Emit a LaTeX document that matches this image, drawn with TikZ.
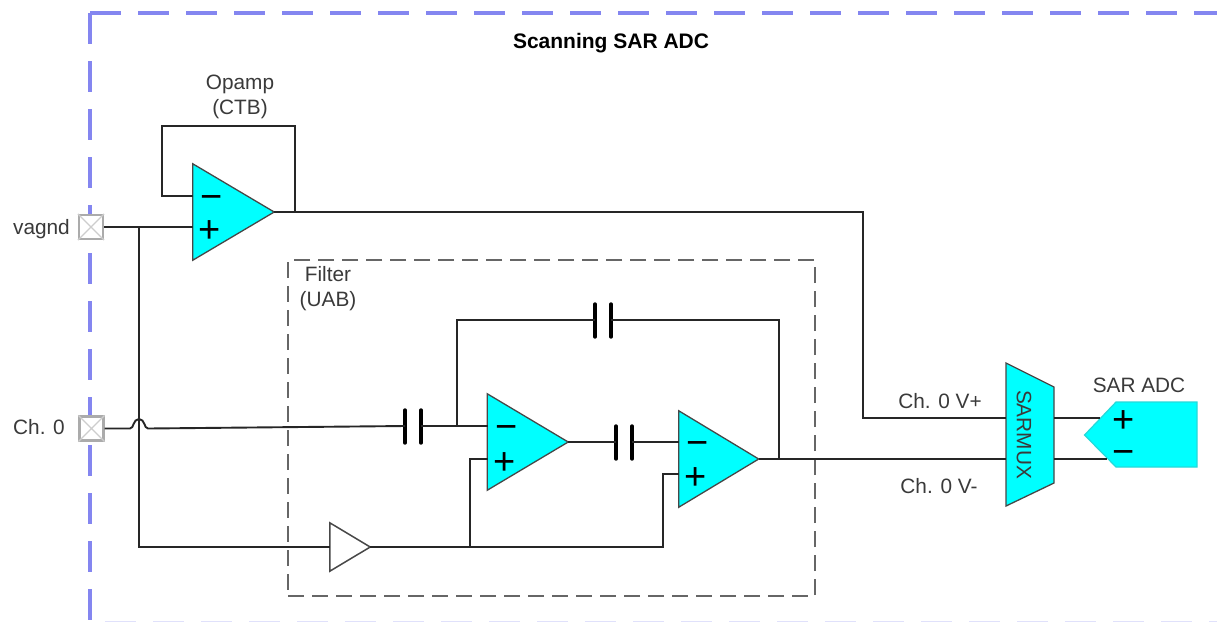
\documentclass[tikz,border=0pt]{standalone}
\usepackage{fontspec}
\setmainfont{Liberation Sans}
\usetikzlibrary{calc}
\definecolor{framecol}{HTML}{8486F0}
\definecolor{filtercol}{HTML}{666666}
\definecolor{wirecol}{HTML}{262626}
\definecolor{ampcol}{HTML}{00FFFF}
\definecolor{labelcol}{HTML}{3A3A3A}
\definecolor{pincol}{HTML}{ABABAB}
\tikzset{
  x=1pt,y=-1pt,
  frameline/.style={draw=framecol,line width=3.1pt,dash pattern=on 31pt off 17pt},
  filterline/.style={draw=filtercol,line width=2.5pt,dash pattern=on 16pt off 8pt},
  wire/.style={draw=wirecol,line width=1.9pt,line join=miter},
  blockedge/.style={draw=wirecol!85!white,fill=ampcol,line width=1.3pt,line join=miter},
  plate/.style={draw=black,line width=3.4pt,line cap=round},
  label/.style={text=labelcol,font=\fontsize{20.8}{24.5}\selectfont,inner sep=0pt,align=center},
  title/.style={text=black,font=\fontsize{21}{24}\selectfont\bfseries,inner sep=0pt},
  pinbox/.style={draw=pincol,fill=white,line width=2.2pt,minimum width=24pt,minimum height=24pt,inner sep=0pt},
  sign/.style={text=black,font=\fontsize{38}{38}\selectfont,inner sep=0pt},
}
% \ampl{name}{left x}{top y}{width}{height}{minus y}{plus y}
\newcommand{\ampl}[7]{%
  \node[inner sep=0pt,minimum width=#4pt,minimum height=#5pt] (#1) at ({#2+#4/2},{#3+#5/2}) {};
  \path[blockedge] (#1.north west) -- (#1.east) -- (#1.south west) -- cycle;
  \coordinate (#1m) at (#2,#6);
  \coordinate (#1p) at (#2,#7);
  \node[sign] (#1ms) at ({#2+19},{#6+6}) {−};
  \node[sign] (#1ps) at ({#2+17},{#7+5}) {+};
}
% \capac{name}{left plate x}{centre y}
\newcommand{\capac}[3]{%
  \coordinate (#1l) at (#2,#3);
  \coordinate (#1r) at ({#2+16},#3);
  \draw[plate] ($(#1l)+(0,-16)$) -- ($(#1l)+(0,17)$);
  \draw[plate] ($(#1r)+(0,-16)$) -- ($(#1r)+(0,17)$);
}
\newcommand{\pin}[3]{%
  \node[pinbox] (#1) at (#2,#3) {};
  \draw[pincol!60!white,line width=1.2pt] (#1.north west) -- (#1.south east) (#1.north east) -- (#1.south west);
}
\begin{document}
\begin{tikzpicture}
\useasboundingbox (0,0) rectangle (1217,622);
\clip (0,0) rectangle (1217,622);
\fill[white] (0,0) rectangle (1217,622);
% frame
\coordinate (fc) at (90,13);
\coordinate (fb) at (90,622);
\coordinate (ft) at (1217,13);
\draw[frameline] (fc) -- (fb);
\draw[frameline] (fc) -- (ft);
\draw[framecol!25!white,line width=1.5pt,dash pattern=on 31pt off 17pt] (105,621.5) -- (1217,621.5);
% filter frame
\node[filterline,inner sep=0pt,minimum width=527pt,minimum height=336pt] (filter) at (551.5,428) {};

% wires first
\coordinate (j1) at (139,227);
\coordinate (j1b) at (139,547);
\coordinate (h1) at (130,428.5);
\coordinate (h2) at (148,428.5);
\coordinate (j2) at (457,426);
\coordinate (j3) at (470,547);
\coordinate (j4) at (779,459);
\coordinate (fbtop) at (295,126);
\coordinate (fbl) at (162,126);
\coordinate (c1) at (863,212);
\coordinate (c2) at (863,418);
\coordinate (j5) at (295,212);

\pin{pinv}{91}{227}
\pin{pinc}{91.5}{428.5}

\ampl{opa}{193}{164}{81}{96}{196}{227}
\ampl{opb}{487.5}{394}{80.5}{96}{426}{459}
\ampl{opc}{679}{411}{79.5}{96}{442}{474}

% buffer
\node[inner sep=0pt,minimum width=40pt,minimum height=48pt] (buf) at (350,547) {};
\path[draw=wirecol!85!white,fill=white,line width=1.5pt,line join=miter] (buf.north west) -- (buf.east) -- (buf.south west) -- cycle;

\capac{ca}{595}{320}
\capac{cb}{616}{442}
\capac{cc}{405}{426}

% SARMUX
\coordinate (m1) at (1006,363);
\coordinate (m2) at (1054,387);
\coordinate (m3) at (1054,483);
\coordinate (m4) at (1006,506);
\path[blockedge] (m1) -- (m2) -- (m3) -- (m4) -- cycle;
\node[text=labelcol,font=\fontsize{20.8}{24}\selectfont,inner sep=0pt,rotate=-90] (muxlabel) at (1024,434.5) {SARMUX};
\coordinate (mli) at (1006,418);
\coordinate (mln) at (1006,459);
\coordinate (mro) at (1054,418);
\coordinate (mrn) at (1054,459);

% SAR ADC
\coordinate (a1) at (1084.5,435);
\coordinate (a2) at (1116,402);
\coordinate (a3) at (1197,402);
\coordinate (a4) at (1197,467);
\coordinate (a5) at (1116,467);
\path[draw=ampcol!70!gray,fill=ampcol,line width=1.2pt,line join=miter] (a1) -- (a2) -- (a3) -- (a4) -- (a5) -- cycle;
\coordinate (aip) at (1100,418);
\coordinate (ain) at (1107,459);
\node[sign] (adcp) at (1124,422) {+};
\node[sign] (adcm) at (1124,457) {−};

% connectors
\draw[wire] (pinv.east) -- (opap);
\draw[wire] (j1) -- (j1b) -- (buf.west);
\draw[wire] (opam) -- (162,196) -- (fbl) -- (fbtop) -- (j5);
\draw[wire] (opa.east) -- (c1) -- (c2) -- (mli);
\draw[wire] (pinc.east) -- (h1) .. controls (134,428.5) and (133,419) .. (139,419) .. controls (145,419) and (144,428.5) .. (h2) -- (ccl);
\draw[wire] (ccr) -- (opbm);
\draw[wire] (j2) -- (457,320) -- (cal);
\draw[wire] (car) -- (779,320) -- (j4);
\draw[wire] (opb.east) -- (cbl);
\draw[wire] (cbr) -- (opcm);
\draw[wire] (opc.east) -- (j4) -- (mln);
\draw[wire] (buf.east) -- (663,547) -- (663,474) -- (opcp);
\draw[wire] (j3) -- (470,459) -- (opbp);
\draw[wire] (mro) -- (aip);
\draw[wire] (mrn) -- (ain);

% labels
\node[title] (ttl) at (611,43.5) {Scanning SAR ADC};
\node[label] (lop) at (240,97) {Opamp\\(CTB)};
\node[label] (lfi) at (328,288.5) {Filter\\(UAB)};
\node[label,anchor=east] (lv) at (70,229) {vagnd};
\node[label] (lc) at (39,427) {Ch. 0};
\node[label] (lvp) at (940,401.5) {Ch. 0 V+};
\node[label] (lvm) at (939,486.5) {Ch. 0 V-};
\node[label] (lsa) at (1139,385) {SAR ADC};
\end{tikzpicture}
\end{document}
